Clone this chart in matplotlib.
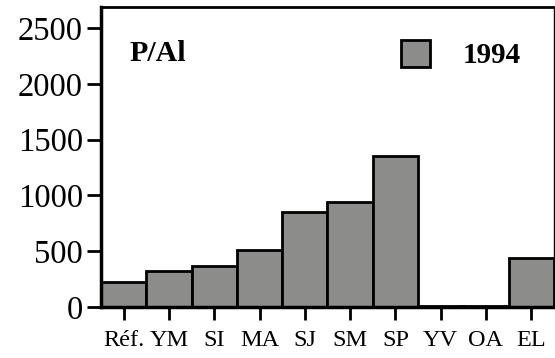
import matplotlib.pyplot as plt
import numpy as np

plt.rcParams['font.family'] = ['Liberation Serif', 'DejaVu Serif']

# sites and P/Al values
sites = ['Réf.', 'YM', 'SI', 'MA', 'SJ', 'SM', 'SP', 'YV', 'OA', 'EL']
p_al_1994 = [225, 320, 365, 510, 850, 940, 1350, 5, 5, 440]
yticks = [0, 500, 1000, 1500, 2000, 2500]

fig = plt.figure(figsize=(5.55, 3.58), dpi=100)
ax = fig.add_axes([0.182, 0.143, 0.816, 0.838])

x = np.arange(len(sites))
ax.bar(x, p_al_1994, width=1.0, color='#8c8d8a', edgecolor='black', linewidth=2, label='1994')

ax.set_xlim(-0.5, 9.5)
ax.set_ylim(0, 2690)
ax.set_xticks(x)
ax.set_xticklabels(sites, fontsize=17.5)
ax.set_yticks(yticks)
ax.tick_params(axis='y', labelsize=23.5, direction='out', length=10, width=2, pad=3)
ax.tick_params(axis='x', direction='out', length=9, width=2, pad=8)

ax.spines['left'].set_linewidth(2.5)
ax.spines['bottom'].set_linewidth(2.5)
ax.spines['top'].set_linewidth(2)
ax.spines['right'].set_linewidth(1)

ax.text(0.063, 0.82, 'P/Al', transform=ax.transAxes, fontsize=21.5, fontweight='bold')

leg = ax.legend(loc='upper right', bbox_to_anchor=(0.926, 0.888), frameon=False,
                prop={'size': 21, 'weight': 'bold'}, handlelength=1.0, handleheight=1.0,
                handletextpad=1.1, borderpad=0, borderaxespad=0)

fig.savefig('out.png', dpi=100)
